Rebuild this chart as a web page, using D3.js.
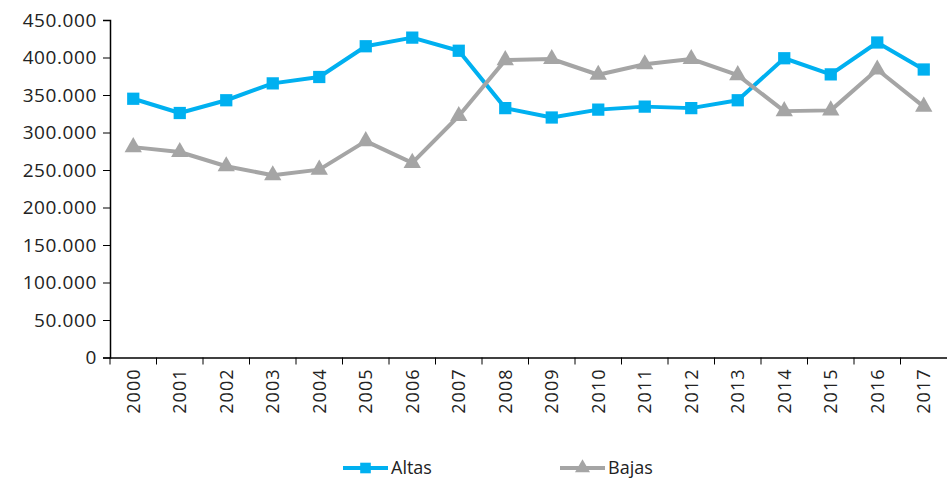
<!DOCTYPE html>
<html>
<head>
<meta charset="utf-8">
<script src="https://cdn.jsdelivr.net/npm/d3@7"></script>
<style>
  body { margin: 0; background: #fff; }
  svg text { font-family: "Open Sans", "Lato", sans-serif; fill: #222; }
</style>
</head>
<body>
<svg id="chart" width="947" height="481"></svg>
<script>
const years = ["2000","2001","2002","2003","2004","2005","2006","2007","2008","2009","2010","2011","2012","2013","2014","2015","2016","2017"];
const altas = [345000, 326000, 343000, 365500, 374000, 415000, 426500, 409000, 332500, 320000, 330500, 334500, 332500, 343000, 399000, 377500, 420000, 384000];
const bajas = [280500, 274000, 255000, 243000, 250500, 288500, 259500, 322000, 396500, 398000, 377000, 391000, 398000, 376500, 328500, 329500, 384000, 334500];
const yTicks = [0, 50000, 100000, 150000, 200000, 250000, 300000, 350000, 400000, 450000];

const series = [
  { name: "Altas", values: altas, color: "#00b0f0", symbol: d3.symbolSquare, size: 150 },
  { name: "Bajas", values: bajas, color: "#a5a5a5", symbol: d3.symbolTriangle, size: 130 }
];

const width = 947;
const margin = { top: 20, right: 0, bottom: 124, left: 110 };
const svg = d3.select("#chart");

const x = d3.scaleBand()
  .domain(years)
  .range([margin.left, width - margin.right]);

const y = d3.scaleLinear()
  .domain([0, 450000])
  .range([357.5, margin.top]);

const fmt = d => d3.format(",")(d).replace(/,/g, ".");

// y axis
const yAxis = svg.append("g")
  .attr("transform", `translate(${margin.left},0)`)
  .call(d3.axisLeft(y).tickValues(yTicks).tickFormat(fmt).tickSize(7).tickPadding(6));
yAxis.selectAll("text")
  .attr("font-size", 19)
  .attr("letter-spacing", 0.6);

// x axis
const xAxis = svg.append("g")
  .attr("transform", `translate(0,${y(0)})`)
  .call(d3.axisBottom(x).tickSize(0).tickSizeOuter(0));
xAxis.selectAll(".tick text")
  .attr("font-size", 18)
  .attr("letter-spacing", 1)
  .attr("transform", "rotate(-90)")
  .attr("text-anchor", "end")
  .attr("x", -11)
  .attr("y", 0)
  .attr("dy", "0.35em");
// tick marks between categories
xAxis.selectAll(".sep")
  .data(years)
  .enter()
  .append("line")
  .attr("x1", d => x(d))
  .attr("x2", d => x(d))
  .attr("y1", 0)
  .attr("y2", 7)
  .attr("stroke", "#000");

svg.selectAll(".domain").attr("stroke", "#000").attr("stroke-width", 1.5);
svg.selectAll(".tick line").attr("stroke", "#000");

const line = d3.line()
  .x((d, i) => x(years[i]) + x.bandwidth() / 2)
  .y(d => y(d));

series.forEach(s => {
  svg.append("path")
    .datum(s.values)
    .attr("fill", "none")
    .attr("stroke", s.color)
    .attr("stroke-width", 4)
    .attr("stroke-linejoin", "round")
    .attr("d", line);

  svg.append("g")
    .selectAll("path")
    .data(s.values)
    .enter()
    .append("path")
    .attr("d", d3.symbol().type(s.symbol).size(s.size))
    .attr("fill", s.color)
    .attr("transform", (d, i) => `translate(${x(years[i]) + x.bandwidth() / 2},${y(d)})`);
});

// legend
const legendX = [343, 560];
series.forEach((s, i) => {
  const g = svg.append("g").attr("transform", `translate(${legendX[i]},468)`);
  g.append("line")
    .attr("x1", 0).attr("x2", 45)
    .attr("stroke", s.color)
    .attr("stroke-width", 4);
  g.append("path")
    .attr("d", d3.symbol().type(s.symbol).size(s.size * 0.75))
    .attr("fill", s.color)
    .attr("transform", "translate(22.5,0)");
  g.append("text")
    .attr("x", 48)
    .attr("dy", "0.35em")
    .attr("font-size", 18)
    .text(s.name);
});
</script>
</body>
</html>
